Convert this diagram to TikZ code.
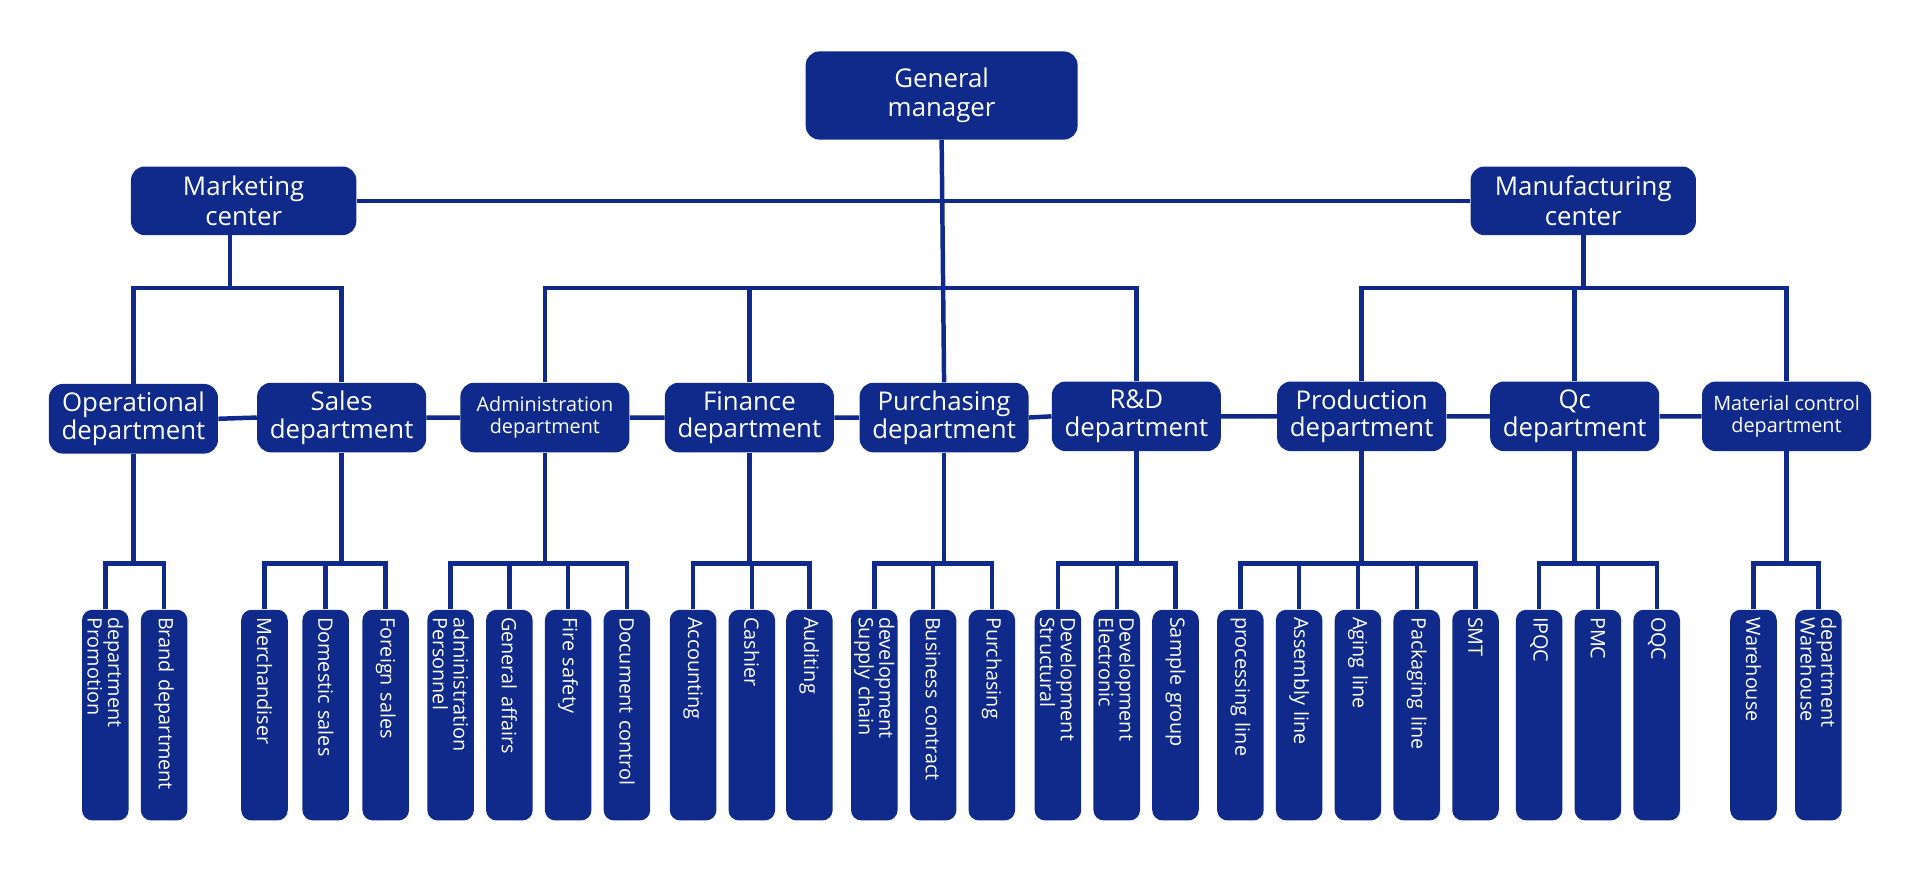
\documentclass[tikz,border=0pt]{standalone}
\usepackage{fontspec}
\setmainfont{Open Sans}
\usetikzlibrary{positioning}
\definecolor{orgblue}{RGB}{16,42,140}
\tikzset{
every node/.style={inner sep=1pt, text=white, font=\fontsize{13}{14}\selectfont},
box/.style={draw=none, fill=orgblue, rounded corners=8pt, align=center},
topbox/.style={box, minimum width=5.55cm, minimum height=1.8cm, font=\fontsize{15}{17}\selectfont},
ctrbox/.style={box, minimum width=4.6cm, minimum height=1.4cm, font=\fontsize{15}{17}\selectfont},
dept/.style={box, minimum width=3.45cm, minimum height=1.42cm, font=\fontsize{15}{16}\selectfont},
smalldept/.style={dept, font=\fontsize{11.5}{12.5}\selectfont},
leaf/.style={box, rotate=-90, minimum width=4.3cm, minimum height=0.95cm, text width=4.0cm, align=left, rounded corners=6pt, font=\fontsize{11.5}{12}\selectfont},
link/.style={draw=orgblue, line width=2.6pt},
}
\begin{document}
\begin{tikzpicture}[x=0.025cm, y=-0.025cm]
  \useasboundingbox (0,0) rectangle (1568,724);
  \coordinate (yb) at (0,235);
  \coordinate (yl) at (0,460);
  \coordinate (mx) at (188,0);
  % top levels
  \node[topbox] (gm) at (769,78) {General\\manager};
  \node[ctrbox] (mkt) at (199,164) {Marketing\\center};
  \node[ctrbox] (mfg) at (1293,164) {Manufacturing\\center};

  % departments
  \node[dept] (op) at (109,342) {Operational\\department};
  \node[dept] (sal) at (279,341) {Sales\\department};
  \node[smalldept] (adm) at (445,341) {Administration\\department};
  \node[dept] (fin) at (612,341) {Finance\\department};
  \node[dept] (pur) at (771,341) {Purchasing\\department};
  \node[dept] (rd) at (928,340) {R\&D\\department};
  \node[dept] (prd) at (1112,340) {Production\\department};
  \node[dept] (qc) at (1286,340) {Qc\\department};
  \node[smalldept] (mat) at (1459,340) {Material control\\department};

  % leaves
  \foreach \nm/\x/\txt in {
    op1/86/{department\\Promotion}, op2/134/{Brand department},
    sal1/216/Merchandiser, sal2/266/Domestic sales, sal3/315/Foreign sales,
    adm1/368/{administration\\Personnel}, adm2/416/General affairs, adm3/464/Fire safety, adm4/512/Document control,
    fin1/566/Accounting, fin2/614/Cashier, fin3/661/Auditing,
    pur1/714/{development\\Supply chain}, pur2/762/Business contract, pur3/810/Purchasing,
    rd1/864/{Development\\Structural}, rd2/912/{Development\\Electronic}, rd3/960/Sample group,
    prd1/1013/processing line, prd2/1061/Assembly line, prd3/1109/Aging line, prd4/1157/Packaging line, prd5/1205/SMT,
    qc1/1257/IPQC, qc2/1305/PMC, qc3/1353/OQC,
    mat1/1432/Warehouse, mat2/1485/{department\\Warehouse}}
    \node[leaf] (\nm) at (\x,584) {\txt};

  % upper links
  \draw[link] (mkt.east) -- (mfg.west);
  \draw[link] (gm.south) -- (pur.north);
  \draw[link] (mkt.south -| mx) -- (mx |- yb);
  \draw[link] (op.north) |- (sal.north |- yb) -- (sal.north);
  \draw[link] (adm.north) |- (rd.north |- yb) -- (rd.north);
  \draw[link] (fin.north) -- (fin.north |- yb);
  \draw[link] (mfg.south) -- (mfg.south |- yb);
  \draw[link] (prd.north) |- (mat.north |- yb) -- (mat.north);
  \draw[link] (qc.north) -- (qc.north |- yb);
  \draw[link] (op.east) -- (sal.west) (sal.east) -- (adm.west) (adm.east) -- (fin.west)
    (fin.east) -- (pur.west) (pur.east) -- (rd.west) (rd.east) -- (prd.west)
    (prd.east) -- (qc.west) (qc.east) -- (mat.west);

  % lower links
  \foreach \p/\a/\b in {op/op1/op2, sal/sal1/sal3, adm/adm1/adm4, fin/fin1/fin3,
    pur/pur1/pur3, rd/rd1/rd3, prd/prd1/prd5, qc/qc1/qc3, mat/mat1/mat2}{
    \draw[link] (\p.south) -- (\p.south |- yl);
    \draw[link] (\a.west) |- (\b.west |- yl) -- (\b.west);
  }
  \foreach \l in {sal2, adm2, adm3, fin2, pur2, rd2, prd2, prd3, prd4, qc2}
    \draw[link] (\l.west) -- (\l.west |- yl);
\end{tikzpicture}
\end{document}
